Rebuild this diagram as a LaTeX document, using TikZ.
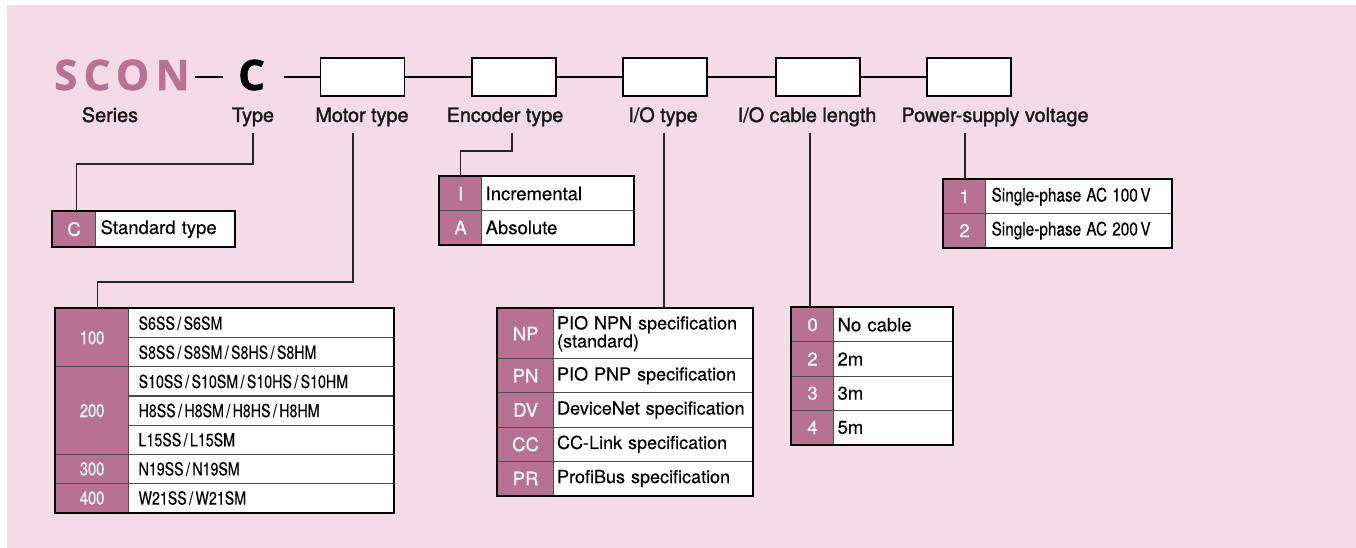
\documentclass[tikz,border=0pt]{standalone}
\usepackage{fontspec}
\usepackage{graphicx}
\setmainfont[FakeBold=0.35]{TeX Gyre Heros}
\newfontfamily\sconfont[LetterSpace=15,FakeBold=1.2]{Open Sans}
\newfontfamily\lblfont[FakeBold=1.6]{TeX Gyre Heros}
\definecolor{bgpink}{RGB}{245,219,230}
\definecolor{codepink}{RGB}{183,113,146}
\definecolor{sconpink}{RGB}{185,114,148}
\newcommand\condm[1]{\scalebox{0.79}[1]{#1}}
\newcommand\condp[1]{\scalebox{0.83}[1]{#1}}
\begin{document}
\begin{tikzpicture}[x=1pt,y=-1pt,
  mainline/.style={line width=2.2pt, black},
  slotbox/.style={draw=black, line width=1.6pt, fill=white, minimum width=84pt, minimum height=38pt, inner sep=0},
  lbl/.style={font=\lblfont\fontsize{19.8}{22}\selectfont, anchor=base, inner sep=0, text=black!90},
  conn/.style={line width=1.5pt, black!85},
  codec/.style={draw=black!70, line width=1.2pt, fill=codepink, text=white, anchor=north west, inner sep=0, font=\fontsize{18.5}{20}\selectfont},
  txtc/.style={draw=black!70, line width=1.2pt, fill=white, anchor=north west, inner ysep=0, align=left, font=\fontsize{18.5}{20}\selectfont},
  frame/.style={draw=black, line width=2pt},
]
\useasboundingbox (0,0) rectangle (1356,548);
\fill[white] (0,0) rectangle (1356,548);
\fill[bgpink] (7,5) rectangle (1356,548);

% code line
\node[anchor=base west, inner sep=0, text=sconpink, font=\sconfont\bfseries\fontsize{42}{42}\selectfont] (scon) at (54,90) {SCON};
\node[anchor=base west, inner sep=0, text=black, font=\sconfont\bfseries\fontsize{42}{42}\selectfont] (ctype) at (238,90) {C};
\coordinate (d1a) at (195,77);
\coordinate (d1b) at (223,77);
\draw[mainline] (d1a) -- (d1b);
\coordinate (d2a) at (284,77);
\node[slotbox] (b1) at (362.5,77) {};
\node[slotbox] (b2) at (514,77) {};
\node[slotbox] (b3) at (665,77) {};
\node[slotbox] (b4) at (818,77) {};
\node[slotbox] (b5) at (969,77) {};
\draw[mainline] (d2a) -- (b1.west);
\draw[mainline] (b1.east) -- (b2.west);
\draw[mainline] (b2.east) -- (b3.west);
\draw[mainline] (b3.east) -- (b4.west);
\draw[mainline] (b4.east) -- (b5.west);

% labels
\node[lbl] (lseries) at (110,122) {Series};
\node[lbl] (ltype) at (253,122) {Type};
\node[lbl] (lmotor) at (362,122) {Motor type};
\node[lbl] (lenc) at (505,122) {Encoder type};
\node[lbl] (lio) at (663,122) {I/O type};
\node[lbl] (lcable) at (807,122) {I/O cable length};
\node[lbl] (lpower) at (995,122) {Power-supply voltage};

% Type table
\node[codec, minimum width=43pt, minimum height=35pt] (cC) at (52,211) {C};
\node[txtc, inner xsep=5pt, text width=129pt, minimum height=35pt] (tC) at (95,211) {Standard type};
\draw[frame] (cC.north west) rectangle (tC.south east);

% Encoder table
\node[codec, minimum width=42pt, minimum height=34pt] (ei) at (439,176) {I};
\node[txtc, inner xsep=4pt, text width=144pt, minimum height=34pt] (eit) at (481,176) {Incremental};
\node[codec, minimum width=42pt, minimum height=34pt] (ea) at (439,210) {A};
\node[txtc, inner xsep=4pt, text width=144pt, minimum height=34pt] (eat) at (481,210) {Absolute};
\draw[frame] (ei.north west) rectangle (eat.south east);

% Power table
\node[codec, minimum width=42pt, minimum height=34pt] (p1) at (943,179) {1};
\node[txtc, inner xsep=6pt, text width=174pt, minimum height=34pt] (p1t) at (985,179) {\condp{Single-phase AC 100\,V}};
\node[codec, minimum width=42pt, minimum height=34pt] (p2) at (943,213) {2};
\node[txtc, inner xsep=6pt, text width=174pt, minimum height=34pt] (p2t) at (985,213) {\condp{Single-phase AC 200\,V}};
\draw[frame] (p1.north west) rectangle (p2t.south east);

% Cable table
\node[codec, minimum width=42pt, minimum height=34.25pt] (k0) at (791,307) {0};
\node[txtc, inner xsep=4pt, text width=111pt, minimum height=34.25pt] (k0t) at (833,307) {No cable};
\node[codec, minimum width=42pt, minimum height=34.25pt] (k2) at (791,341.25) {2};
\node[txtc, inner xsep=4pt, text width=111pt, minimum height=34.25pt] (k2t) at (833,341.25) {2m};
\node[codec, minimum width=42pt, minimum height=34.25pt] (k3) at (791,375.5) {3};
\node[txtc, inner xsep=4pt, text width=111pt, minimum height=34.25pt] (k3t) at (833,375.5) {3m};
\node[codec, minimum width=42pt, minimum height=34.25pt] (k4) at (791,409.75) {4};
\node[txtc, inner xsep=4pt, text width=111pt, minimum height=34.25pt] (k4t) at (833,409.75) {5m};
\draw[frame] (k0.north west) rectangle (k4t.south east);

% I/O table
\node[codec, minimum width=56pt, minimum height=50pt] (np) at (497,308) {NP};
\node[txtc, inner xsep=3.5pt, text width=192pt, minimum height=50pt, font=\fontsize{18}{15}\selectfont] (npt) at (553,308) {PIO NPN specification\\(standard)};
\node[codec, minimum width=56pt, minimum height=34.25pt] (pn) at (497,358) {PN};
\node[txtc, inner xsep=3.5pt, text width=192pt, minimum height=34.25pt, font=\fontsize{18}{20}\selectfont] (pnt) at (553,358) {PIO PNP specification};
\node[codec, minimum width=56pt, minimum height=34.25pt] (dv) at (497,392.25) {DV};
\node[txtc, inner xsep=3.5pt, text width=192pt, minimum height=34.25pt, font=\fontsize{18}{20}\selectfont] (dvt) at (553,392.25) {DeviceNet specification};
\node[codec, minimum width=56pt, minimum height=34.25pt] (cc) at (497,426.5) {CC};
\node[txtc, inner xsep=3.5pt, text width=192pt, minimum height=34.25pt, font=\fontsize{18}{20}\selectfont] (cct) at (553,426.5) {CC-Link specification};
\node[codec, minimum width=56pt, minimum height=34.25pt] (pr) at (497,460.75) {PR};
\node[txtc, inner xsep=3.5pt, text width=192pt, minimum height=34.25pt, font=\fontsize{18}{20}\selectfont] (prt) at (553,460.75) {ProfiBus specification};
\draw[frame] (np.north west) rectangle (prt.south east);

% Motor table
\node[codec, minimum width=73pt, minimum height=58.29pt] (m100) at (55,308) {\condm{100}};
\node[codec, minimum width=73pt, minimum height=87.43pt] (m200) at (55,366.29) {\condm{200}};
\node[codec, minimum width=73pt, minimum height=29.14pt] (m300) at (55,453.71) {\condm{300}};
\node[codec, minimum width=73pt, minimum height=29.14pt] (m400) at (55,482.86) {\condm{400}};
\node[txtc, inner xsep=10pt, text width=245pt, minimum height=29.14pt, font=\fontsize{18}{20}\selectfont] (mt1) at (128,308) {\condm{S6SS\,/\,S6SM}};
\node[txtc, inner xsep=10pt, text width=245pt, minimum height=29.14pt, font=\fontsize{18}{20}\selectfont] (mt2) at (128,337.14) {\condm{S8SS\,/\,S8SM\,/\,S8HS\,/\,S8HM}};
\node[txtc, inner xsep=10pt, text width=245pt, minimum height=29.14pt, font=\fontsize{18}{20}\selectfont] (mt3) at (128,366.29) {\condm{S10SS\,/\,S10SM\,/\,S10HS\,/\,S10HM}};
\node[txtc, inner xsep=10pt, text width=245pt, minimum height=29.14pt, font=\fontsize{18}{20}\selectfont] (mt4) at (128,395.43) {\condm{H8SS\,/\,H8SM\,/\,H8HS\,/\,H8HM}};
\node[txtc, inner xsep=10pt, text width=245pt, minimum height=29.14pt, font=\fontsize{18}{20}\selectfont] (mt5) at (128,424.57) {\condm{L15SS\,/\,L15SM}};
\node[txtc, inner xsep=10pt, text width=245pt, minimum height=29.14pt, font=\fontsize{18}{20}\selectfont] (mt6) at (128,453.71) {\condm{N19SS\,/\,N19SM}};
\node[txtc, inner xsep=10pt, text width=245pt, minimum height=29.14pt, font=\fontsize{18}{20}\selectfont] (mt7) at (128,482.86) {\condm{W21SS\,/\,W21SM}};
\draw[frame] (m100.north west) rectangle (mt7.south east);

% connectors
\coordinate (tconn) at (253,133);
\draw[conn] (tconn) -- (253,164) -| ([xshift=2.5pt]cC.north);
\coordinate (mconn) at (353,133);
\draw[conn] (mconn) -- (353,282) -| ([xshift=5.5pt]m100.north);
\coordinate (econn) at (512,133);
\draw[conn] (econn) -- (512,151) -| (ei.north);
\coordinate (iconn) at (664,133);
\draw[conn] (iconn) -- (iconn |- npt.north);
\coordinate (kconn) at (810,133);
\draw[conn] (kconn) -- (kconn |- k0.north);
\coordinate (pconn) at (965,133);
\draw[conn] (pconn) -- (pconn |- p1.north);
\end{tikzpicture}
\end{document}
